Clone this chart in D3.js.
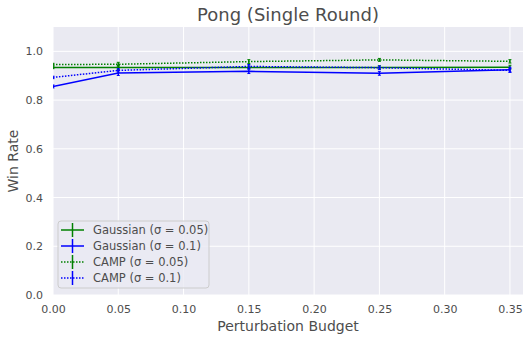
<!DOCTYPE html>
<html>
<head>
<meta charset="utf-8">
<script src="https://cdn.jsdelivr.net/npm/d3@7"></script>
<style>
  body { margin: 0; background: #fff; }
  text { font-family: "DejaVu Sans", sans-serif; fill: #4d4d4d; }
</style>
</head>
<body>
<div id="chart"></div>
<script>
// perturbation budgets
var budgets = [0, 0.05, 0.15, 0.25, 0.35];
var xTicks = [0, 0.05, 0.10, 0.15, 0.20, 0.25, 0.30, 0.35];
var yTicks = [0, 0.2, 0.4, 0.6, 0.8, 1.0];

var gauss005 = [0.934, 0.934, 0.934, 0.934, 0.935];
var gauss005Err = [0.005, 0.008, 0.006, 0.007, 0.008];
var gauss01 = [0.856, 0.911, 0.918, 0.910, 0.925];
var gauss01Err = [0.006, 0.010, 0.009, 0.008, 0.010];
var camp005 = [0.946, 0.947, 0.958, 0.965, 0.959];
var camp005Err = [0.005, 0.008, 0.008, 0.006, 0.007];
var camp01 = [0.893, 0.922, 0.938, 0.933, 0.922];
var camp01Err = [0.005, 0.007, 0.008, 0.007, 0.008];

var series = [
  { name: "Gaussian (σ = 0.05)", values: gauss005, err: gauss005Err, color: "green", dash: null },
  { name: "Gaussian (σ = 0.1)", values: gauss01, err: gauss01Err, color: "blue", dash: null },
  { name: "CAMP (σ = 0.05)", values: camp005, err: camp005Err, color: "green", dash: "1.5,1.5" },
  { name: "CAMP (σ = 0.1)", values: camp01, err: camp01Err, color: "blue", dash: "1.5,1.5" }
];

var W = 531, H = 340;
var m = { left: 53, right: 8, top: 27, bottom: 45 };

var svg = d3.select("#chart").append("svg")
  .attr("width", W).attr("height", H);

var x = d3.scaleLinear().domain([0, 0.36]).range([m.left, W - m.right]);
var y = d3.scaleLinear().domain([0, 1.1]).range([H - m.bottom, m.top]);

// background
svg.append("rect")
  .attr("x", x(0)).attr("y", y(1.1))
  .attr("width", x(0.36) - x(0)).attr("height", y(0) - y(1.1))
  .attr("fill", "#eaeaf2");

// grid
svg.append("g").selectAll("line.vg").data(xTicks).enter().append("line")
  .attr("x1", d => x(d)).attr("x2", d => x(d))
  .attr("y1", y(0)).attr("y2", y(1.1))
  .attr("stroke", "#fff").attr("stroke-width", 1);
svg.append("g").selectAll("line.hg").data(yTicks).enter().append("line")
  .attr("x1", x(0)).attr("x2", x(0.36))
  .attr("y1", d => y(d)).attr("y2", d => y(d))
  .attr("stroke", "#fff").attr("stroke-width", 1);

// axes (labels only, seaborn style)
var xAxis = svg.append("g").attr("transform", "translate(0," + (y(0) + 4) + ")")
  .call(d3.axisBottom(x).tickValues(xTicks).tickFormat(d3.format(".2f")).tickSize(0).tickPadding(6));
var yAxis = svg.append("g").attr("transform", "translate(" + (x(0) - 4) + ",0)")
  .call(d3.axisLeft(y).tickValues(yTicks).tickFormat(d3.format(".1f")).tickSize(0).tickPadding(6));
[xAxis, yAxis].forEach(function(a) {
  a.select(".domain").remove();
  a.selectAll("text").style("font-size", "11px").attr("fill", "#4d4d4d");
});

// lines
svg.append("clipPath").attr("id", "clip").append("rect")
  .attr("x", x(0)).attr("y", y(1.1))
  .attr("width", x(0.36) - x(0)).attr("height", y(0) - y(1.1));

var line = d3.line().x((d, i) => x(budgets[i])).y(d => y(d));
var plot = svg.append("g").attr("clip-path", "url(#clip)");

series.forEach(function(s) {
  plot.append("path")
    .attr("d", line(s.values))
    .attr("fill", "none")
    .attr("stroke", s.color)
    .attr("stroke-width", 1.5)
    .attr("stroke-dasharray", s.dash);
  var eb = plot.append("g");
  budgets.forEach(function(b, i) {
    var v = s.values[i], e = s.err[i];
    eb.append("line")
      .attr("x1", x(b)).attr("x2", x(b))
      .attr("y1", y(v - e)).attr("y2", y(v + e))
      .attr("stroke", s.color).attr("stroke-width", 1.5);
    [v - e, v + e].forEach(function(c) {
      eb.append("line")
        .attr("x1", x(b) - 1.5).attr("x2", x(b) + 1.5)
        .attr("y1", y(c)).attr("y2", y(c))
        .attr("stroke", s.color).attr("stroke-width", 1);
    });
  });
});

// title and labels
svg.append("text").attr("x", (x(0) + x(0.36)) / 2).attr("y", 21)
  .attr("text-anchor", "middle").style("font-size", "18px")
  .text("Pong (Single Round)");
svg.append("text").attr("x", (x(0) + x(0.36)) / 2).attr("y", 331)
  .attr("text-anchor", "middle").style("font-size", "14px")
  .text("Perturbation Budget");
svg.append("text")
  .attr("transform", "translate(18," + ((y(0) + y(1.1)) / 2) + ") rotate(-90)")
  .attr("text-anchor", "middle").style("font-size", "14px")
  .text("Win Rate");

// legend
var lg = svg.append("g").attr("transform", "translate(58,221)");
lg.append("rect").attr("width", 151).attr("height", 67).attr("rx", 3)
  .attr("fill", "#eaeaf2").attr("fill-opacity", 0.8)
  .attr("stroke", "#cccccc").attr("stroke-width", 1);
series.forEach(function(s, i) {
  var ry = 9 + i * 16;
  lg.append("line").attr("x1", 3).attr("x2", 26).attr("y1", ry).attr("y2", ry)
    .attr("stroke", s.color).attr("stroke-width", 1.5).attr("stroke-dasharray", s.dash);
  lg.append("line").attr("x1", 14.5).attr("x2", 14.5).attr("y1", ry - 7).attr("y2", ry + 7)
    .attr("stroke", s.color).attr("stroke-width", 1.5);
  lg.append("text").attr("x", 35).attr("y", ry + 4)
    .style("font-size", "11.5px").text(s.name);
});
</script>
</body>
</html>
